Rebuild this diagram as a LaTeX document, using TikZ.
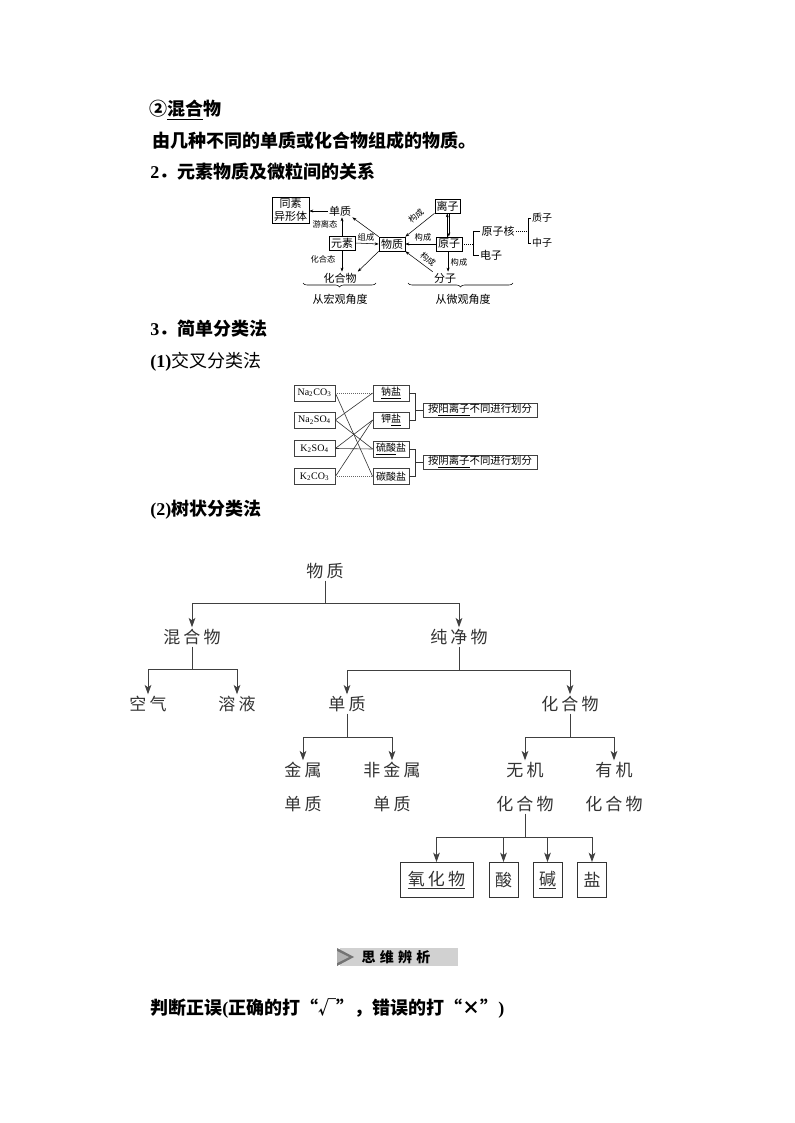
\documentclass[tikz,border=0pt]{standalone}
\usepackage{fontspec}
\setmainfont{Liberation Serif}
\newfontfamily\cjk{Noto Sans CJK SC}
\newfontfamily\cjksp{Noto Sans CJK SC}[LetterSpace=18]
\newfontfamily\cjkban{Noto Sans CJK SC}[LetterSpace=30]
\usetikzlibrary{arrows.meta,decorations.pathreplacing,calc}
\newcommand{\fsz}[1]{\fontsize{#1}{#1}\selectfont}
\begin{document}
\begin{tikzpicture}[x=0.75pt,y=-0.75pt,
  txt/.style={inner sep=0pt, anchor=west, font=\cjk\bfseries\fsz{13.5}},
  txtr/.style={inner sep=0pt, anchor=west, font=\cjk\fsz{13.5}},
  d1/.style={inner sep=0.8pt, font=\cjk\fsz{8.25}},
  d1s/.style={inner sep=0pt, font=\cjk\fsz{6.2}},
  d1box/.style={draw, line width=0.5pt, inner sep=0pt, minimum width=19.5pt, minimum height=10.5pt, font=\cjk\fsz{8.25}},
  d1arr/.style={-{Stealth[length=3pt,width=2.2pt]}, line width=0.4pt},
  d1line/.style={line width=0.4pt},
  d1dot/.style={line width=0.5pt, densely dotted},
  fbox/.style={draw=black!75, line width=0.5pt, inner sep=0pt, minimum width=30.75pt, minimum height=12pt, font=\fsz{7.5}},
  cbox/.style={draw=black!75, line width=0.5pt, inner sep=0pt, minimum width=27pt, minimum height=12pt, font=\cjk\fsz{7.5}},
  lbox/.style={draw=black!75, line width=0.5pt, inner sep=0pt, minimum width=85.5pt, minimum height=10.5pt, font=\cjk\fsz{7.8}},
  cross/.style={line width=0.45pt, draw=black!80},
  crossdot/.style={line width=0.5pt, draw=black!60, densely dotted},
  tr/.style={inner sep=1.2pt, text=black!80, font=\cjksp\fsz{12.75}},
  tr2/.style={tr, align=center, font=\cjksp\fontsize{12.75}{25.5}\selectfont},
  tbox/.style={tr, draw=black!80, line width=0.7pt, minimum height=26.25pt},
  tline/.style={line width=0.7pt, draw=black!75},
  tarrow/.style={tline, -{Stealth[length=7pt,width=5pt,inset=1.8pt]}}
]
\path[fill=white] (0,0) rectangle (794,1123);

% ---------- top text ----------
\node[txt] (t1) at (149,110) {②\underline{混合}物};
\node[txt] (t2) at (152,141) {由几种不同的单质或化合物组成的物质。};
\node[txt] (t3) at (150,172) {{\rmfamily\bfseries 2}．元素物质及微粒间的关系};

% ---------- diagram 1 ----------
\node[draw, line width=0.5pt, inner sep=0pt, align=center, minimum width=27.75pt, minimum height=19.5pt,
      font=\cjk\fontsize{8.25}{9.6}\selectfont] (tong) at (290.5,210) {同素\\异形体};
\node[d1] (danzhi) at (340,211) {单质};
\node[d1box] (yuansu) at (342,243) {元素};
\node[d1] (huahewu) at (340,278) {化合物};
\node[d1box] (wuzhi) at (392,244) {物质};
\node[d1box, minimum width=19pt] (lizi) at (447.5,206) {离子};
\node[d1box] (yuanzi) at (449,244) {原子};
\node[d1] (fenzi) at (445,278) {分子};
\node[d1] (yzh) at (498,231) {原子核};
\node[d1] (dianzi) at (491,255) {电子};
\node[d1, font=\cjk\fsz{7.5}] (zhizi) at (542,218) {质子};
\node[d1, font=\cjk\fsz{7.5}] (zhongzi) at (542,243) {中子};

\node[d1s] (l1) at (325,224) {游离态};
\node[d1s] (l2) at (323,259) {化合态};
\node[d1s] (l3) at (366,237) {组成};
\node[d1s, rotate=40] (l4) at (416,216) {构成};
\node[d1s] (l5) at (423,237) {构成};
\node[d1s] (l6) at (459,262) {构成};
\node[d1s, rotate=-40] (l7) at (428,259) {构成};

\draw[d1arr] (danzhi.west) -- (danzhi.west -| tong.east);
\draw[d1arr] (yuansu.north) -- (yuansu.north |- danzhi.south);
\draw[d1arr] (yuansu.south) -- (yuansu.south |- huahewu.north);
\draw[d1arr] (yuansu.east) -- (wuzhi.west);
\draw[d1arr] (wuzhi.north west) -- (danzhi.south east);
\draw[d1arr] (wuzhi.south west) -- (huahewu.north east);
\draw[d1arr] (lizi.south west) -- (wuzhi.north east);
\draw[d1arr] (yuanzi.west) -- (wuzhi.east);
\draw[d1arr] (fenzi.north west) -- (wuzhi.south east);
\draw[d1arr] ([xshift=-1.3pt]yuanzi.north) -- ([xshift=-1.3pt]yuanzi.north |- lizi.south);
\draw[d1arr] ([xshift=1.0pt]lizi.south) -- ([xshift=1.0pt]lizi.south |- yuanzi.north);
\draw[d1arr] ([xshift=-0.7pt]yuanzi.south) -- ([xshift=-0.7pt]yuanzi.south |- fenzi.north);

\coordinate (bA) at (473,244);
\coordinate (bA1) at (473,231);
\coordinate (bA2) at (473,255);
\draw[d1dot] (yuanzi.east) -- (bA);
\draw[d1line] (bA1) -- (bA2);
\draw[d1line] (bA1) -- (yzh.west);
\draw[d1line] (bA2) -- (dianzi.west);
\coordinate (bB) at (528,231);
\coordinate (bB1) at (528,218);
\coordinate (bB2) at (528,243);
\draw[d1dot] (yzh.east) -- (bB);
\draw[d1line] (bB1) -- (bB2);
\draw[d1line] (bB1) -- (zhizi.west);
\draw[d1line] (bB2) -- (zhongzi.west);

\coordinate (brL1) at (303,283);
\coordinate (brL2) at (376,283);
\coordinate (brR1) at (408,283);
\coordinate (brR2) at (513,283);
\draw[decorate, decoration={brace, mirror, amplitude=3pt}, line width=0.4pt] (brL1) -- (brL2);
\draw[decorate, decoration={brace, mirror, amplitude=3pt}, line width=0.4pt] (brR1) -- (brR2);
\node[d1] (hg) at (340,299) {从宏观角度};
\node[d1] (wg) at (463,299) {从微观角度};

% ---------- headings ----------
\node[txt] (h3) at (150,329) {{\rmfamily\bfseries 3}．简单分类法};
\node[txtr] (h31) at (150,362) {{\rmfamily\bfseries (1)}交叉分类法};
\node[txt] (h32) at (150,510) {{\rmfamily\bfseries (2)}树状分类法};

% ---------- diagram 2 ----------
\node[fbox] (nc) at (314.5,393) {Na\textsubscript{2}CO\textsubscript{3}};
\node[fbox] (ns) at (314.5,420) {Na\textsubscript{2}SO\textsubscript{4}};
\node[fbox] (ks) at (314.5,448.5) {K\textsubscript{2}SO\textsubscript{4}};
\node[fbox] (kc) at (314.5,476.5) {K\textsubscript{2}CO\textsubscript{3}};
\node[cbox] (nay) at (391,393) {\underline{钠盐}};
\node[cbox] (jiay) at (391,420) {钾\underline{盐}};
\node[cbox] (liuy) at (391,449) {\underline{硫酸}盐};
\node[cbox] (tany) at (391,476.5) {碳酸盐};
\node[lbox] (yang) at (480,410) {按\underline{阳离子}不同进行划分};
\node[lbox] (yin) at (480,462) {按\underline{阴离子}不同进行划分};

\draw[crossdot] (nc.east) -- (nay.west);
\draw[cross] (nc.east) -- (tany.west);
\draw[cross] (ns.east) -- (nay.west);
\draw[cross] (ns.east) -- (liuy.west);
\draw[cross] (ks.east) -- (jiay.west);
\draw[cross] (ks.east) -- (liuy.west);
\draw[cross] (kc.east) -- (jiay.west);
\draw[crossdot] (kc.east) -- (tany.west);

\coordinate (c1) at (415,393);
\coordinate (c2) at (415,420);
\coordinate (c3) at (415,410);
\draw[cross] (nay.east) -- (c1) -- (c2) -- (jiay.east);
\draw[cross] (c3) -- (yang.west);
\coordinate (c4) at (415,449);
\coordinate (c5) at (415,476.5);
\coordinate (c6) at (415,462);
\draw[cross] (liuy.east) -- (c4) -- (c5) -- (tany.east);
\draw[cross] (c6) -- (yin.west);

% ---------- tree ----------
\node[tr] (wz) at (325,571) {物质};
\node[tr] (hhw) at (192,637) {混合物};
\node[tr] (cjw) at (459,637) {纯净物};
\node[tr] (kq) at (148,704) {空气};
\node[tr] (ry) at (237,704) {溶液};
\node[tr] (dz) at (347,704) {单质};
\node[tr] (hhw2) at (570,704) {化合物};
\node[tr2] (js) at (303,787) {金属\\单质};
\node[tr2] (fjs) at (392,787) {非金属\\单质};
\node[tr2] (wj) at (525,787) {无机\\化合物};
\node[tr2] (yj) at (614,787) {有机\\化合物};
\node[tbox, minimum width=54.75pt] (yhw) at (436.5,880) {\underline{氧化物}};
\node[tbox, minimum width=21.75pt] (suan) at (503.5,880) {酸};
\node[tbox, minimum width=21.75pt] (jian) at (547.5,880) {\underline{碱}};
\node[tbox, minimum width=21.75pt] (yan) at (592,880) {盐};

\coordinate (b1) at (325,603);
\draw[tline] (wz.south) -- (b1);
\draw[tarrow] (b1) -| (hhw.north);
\draw[tarrow] (b1) -| (cjw.north);
\coordinate (b2) at (192,669);
\draw[tline] (hhw.south) -- (b2);
\draw[tarrow] (b2) -| (kq.north);
\draw[tarrow] (b2) -| (ry.north);
\coordinate (b3) at (459,670);
\draw[tline] (cjw.south) -- (b3);
\draw[tarrow] (b3) -| (dz.north);
\draw[tarrow] (b3) -| (hhw2.north);
\coordinate (b4) at (347,737);
\draw[tline] (dz.south) -- (b4);
\draw[tarrow] (b4) -| (js.north);
\draw[tarrow] (b4) -| (fjs.north);
\coordinate (b5) at (570,737);
\draw[tline] (hhw2.south) -- (b5);
\draw[tarrow] (b5) -| (wj.north);
\draw[tarrow] (b5) -| (yj.north);
\coordinate (b6) at (525,837);
\draw[tline] (wj.south) -- (b6);
\draw[tarrow] (b6) -| (yhw.north);
\draw[tarrow] (b6) -| (suan.north);
\draw[tarrow] (b6) -| (jian.north);
\draw[tarrow] (b6) -| (yan.north);

% ---------- banner ----------
\fill[black!18] (340,948) rectangle (458,966);
\fill[black!55] (337,948) -- (354,957) -- (337,966) -- cycle;
\fill[black!30] (337,951) -- (349,957) -- (337,963) -- cycle;
\node[inner sep=0pt, font=\cjkban\bfseries\fsz{10.5}] (ban) at (396,957) {思维辨析};

% ---------- last line ----------
\node[txt] (t4) at (150,1008) {判断正误{\rmfamily\bfseries (}正确的打“√”，错误的打“×”{\rmfamily\bfseries )}};
\end{tikzpicture}
\end{document}
